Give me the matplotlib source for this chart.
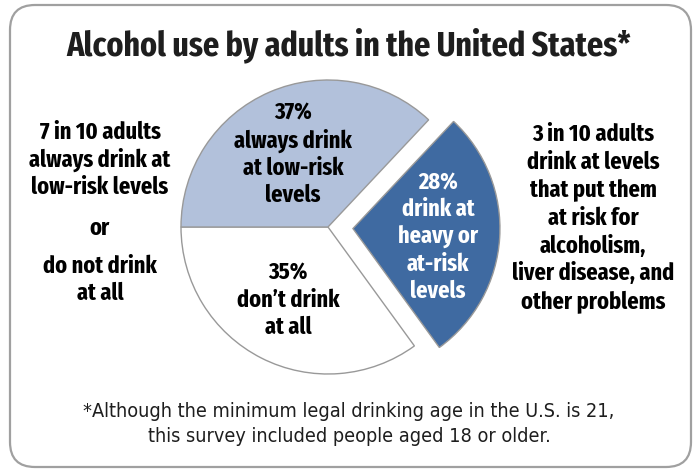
import os
import matplotlib
matplotlib.use('Agg')
import matplotlib.pyplot as plt
from matplotlib import font_manager as fm
from matplotlib.patches import FancyBboxPatch

# ---------- data ----------
shares = [35, 28, 37]
colors = ['#ffffff', '#3f6aa1', '#b2c1db']
slice_labels = ["35%\ndon\u2019t drink\nat all",
                "28%\ndrink at\nheavy or\nat-risk\nlevels",
                "37%\nalways drink\nat low-risk\nlevels"]
title = "Alcohol use by adults in the United States*"
left_note = "7 in 10 adults\nalways drink at\nlow-risk levels"
left_or = "or"
left_note2 = "do not drink\nat all"
right_note = ("3 in 10 adults\ndrink at levels\nthat put them\nat risk for\n"
              "alcoholism,\nliver disease, and\nother problems")
footnote = ("*Although the minimum legal drinking age in the U.S. is 21,\n"
            "this survey included people aged 18 or older.")


# look for a condensed sans face (the original uses a condensed type)
def pick_narrow(bold, widths):
    found = []
    for f in fm.fontManager.ttflist:
        nm = f.name.lower()
        fn = os.path.basename(f.fname).lower().replace('-', '').replace('_', '')
        if 'sans' not in nm or 'mono' in nm or f.style != 'normal':
            continue
        if any(k in fn for k in ('italic', 'oblique', 'light', 'medium',
                                 'black', 'thin', 'semibold', 'extrabold')):
            continue
        isbold = 'bold' in fn or str(f.weight) in ('bold', '700')
        if isbold != bold:
            continue
        for i, w in enumerate(widths):
            if w == 'extracondensed':
                ok = 'extracondensed' in fn
            elif w == 'condensed':
                ok = (('condensed' in fn or 'condensed' in nm or 'narrow' in fn
                       or 'narrow' in nm) and 'extra' not in fn
                      and 'semi' not in fn and 'ultra' not in fn)
            else:
                ok = False
            if ok:
                found.append((i, 0 if 'noto' in nm else 1, f.fname, w))
    if found:
        found.sort()
        return fm.FontProperties(fname=found[0][2]), found[0][3]
    return fm.FontProperties(family='DejaVu Sans',
                             weight='bold' if bold else 'normal'), 'none'


fp_bold, wb = pick_narrow(True, ['extracondensed', 'condensed'])
fp_reg, wr = pick_narrow(False, ['condensed', 'extracondensed'])
kb = {'extracondensed': 1.0, 'condensed': 0.9, 'none': 0.75}[wb]
kr = {'extracondensed': 1.15, 'condensed': 0.95, 'none': 0.8}[wr]

W, H = 697, 470
fig = plt.figure(figsize=(W / 100, H / 100), dpi=100)
ax = fig.add_axes([0, 0, 1, 1])

# rounded frame
box = FancyBboxPatch((10, 3), 681, 462, boxstyle="round,pad=0,rounding_size=25",
                     fc='white', ec='#a0a0a0', lw=1.6)
ax.add_patch(box)

cx, cy, r = 328, H - 227, 147
wedges, _ = ax.pie(shares, colors=colors, explode=[0, 25, 0], startangle=180,
                   counterclock=True, center=(cx, cy), radius=r,
                   wedgeprops=dict(edgecolor='#999999', linewidth=1.0))

fs = 17.5 * kb
lab_pos = [(288, 300), (438, 237), (293, 154)]
lab_col = ['black', 'white', 'black']
for txt, (x, y), c in zip(slice_labels, lab_pos, lab_col):
    ax.text(x, H - y, txt, ha='center', va='center', fontsize=fs,
            fontproperties=fp_bold, color=c, linespacing=1.22)

ax.text(349, H - 45, title, ha='center', va='center', fontsize=25 * kb,
        fontproperties=fp_bold, color='#1e1e1e')
ax.text(100, H - 160, left_note, ha='center', va='center', fontsize=fs,
        fontproperties=fp_bold, linespacing=1.22)
ax.text(100, H - 228, left_or, ha='center', va='center', fontsize=fs,
        fontproperties=fp_bold)
ax.text(100, H - 280, left_note2, ha='center', va='center', fontsize=fs,
        fontproperties=fp_bold, linespacing=1.22)
ax.text(593, H - 218, right_note, ha='center', va='center', fontsize=fs,
        fontproperties=fp_bold, linespacing=1.27)
ax.text(349, H - 424, footnote, ha='center', va='center', fontsize=14.2 * kr / 0.95,
        fontproperties=fp_reg, color='#1e1e1e', linespacing=1.42)

ax.set_xlim(0, W)
ax.set_ylim(0, H)
ax.set_aspect('auto')
ax.axis('off')

fig.savefig('out.png', dpi=100)
plt.close()
